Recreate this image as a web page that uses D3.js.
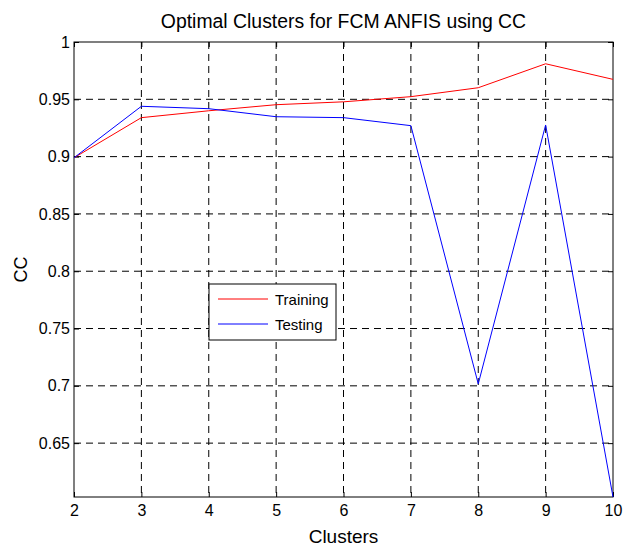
<!DOCTYPE html>
<html lang="en">
<head>
  <meta charset="UTF-8" />
  <title>Optimal Clusters for FCM ANFIS using CC</title>
  <script src="https://d3js.org/d3.v7.min.js"></script>
  <style>
    body { margin: 0; background: #fff; }
    svg { display: block; font-family: 'Liberation Sans', Arial, sans-serif; }
    .grid line { stroke: #000; stroke-dasharray: 7,5; stroke-width: 1; }
  </style>
</head>
<body>
  <svg id="chart" width="624" height="547"></svg>
  <script>
    const clusters = [2, 3, 4, 5, 6, 7, 8, 9, 10];
    const training = [0.899, 0.934, 0.940, 0.9453, 0.9478, 0.9523, 0.9601, 0.981, 0.9674];
    const testing  = [0.899, 0.9439, 0.9418, 0.9348, 0.934, 0.927, 0.7017, 0.9276, 0.603];
    const yTicks = [0.65, 0.7, 0.75, 0.8, 0.85, 0.9, 0.95, 1];

    const svg = d3.select("#chart");
    const plotL = 74, plotR = 613, plotT = 42, plotB = 497;
    const font = "'Liberation Sans', Arial, sans-serif";

    const x = d3.scaleLinear().domain([2, 10]).range([plotL, plotR]);
    const y = d3.scaleLinear().domain([0.603, 1]).range([plotB, plotT]);

    // Grid lines
    const grid = svg.append("g").attr("class", "grid");
    grid.selectAll(".vg")
      .data(clusters.slice(1, -1))
      .enter().append("line")
      .attr("x1", d => x(d)).attr("x2", d => x(d))
      .attr("y1", plotT).attr("y2", plotB);
    grid.selectAll(".hg")
      .data(yTicks.slice(0, -1))
      .enter().append("line")
      .attr("x1", plotL).attr("x2", plotR)
      .attr("y1", d => y(d)).attr("y2", d => y(d));

    // Axes (ticks inward)
    const xAxis = d3.axisBottom(x).tickValues(clusters).tickSize(-5).tickPadding(8).tickFormat(d3.format("d"));
    const xg = svg.append("g").attr("transform", `translate(0,${plotB})`).call(xAxis);
    const yAxis = d3.axisLeft(y).tickValues(yTicks).tickSize(-5).tickPadding(4).tickFormat(d => d);
    const yg = svg.append("g").attr("transform", `translate(${plotL},0)`).call(yAxis);
    [xg, yg].forEach(g => {
      g.attr("font-size", 16).attr("font-family", font);
      g.selectAll("text").attr("fill", "#000");
      g.selectAll("line").attr("stroke", "#000");
      g.select(".domain").remove();
    });
    // top/right ticks
    svg.append("g").attr("transform", `translate(0,${plotT})`)
      .call(d3.axisTop(x).tickValues(clusters).tickSize(-5).tickFormat(""))
      .call(g => g.select(".domain").remove());
    svg.append("g").attr("transform", `translate(${plotR},0)`)
      .call(d3.axisRight(y).tickValues(yTicks).tickSize(-5).tickFormat(""))
      .call(g => g.select(".domain").remove());

    // Box
    svg.append("rect")
      .attr("x", plotL).attr("y", plotT)
      .attr("width", plotR - plotL).attr("height", plotB - plotT)
      .attr("fill", "none").attr("stroke", "#000").attr("stroke-width", 1);

    // Lines
    const line = d3.line().x((d, i) => x(clusters[i])).y(d => y(d));
    svg.append("path").datum(training).attr("d", line)
      .attr("fill", "none").attr("stroke", "#ff0000").attr("stroke-width", 1);
    svg.append("path").datum(testing).attr("d", line)
      .attr("fill", "none").attr("stroke", "#0000ff").attr("stroke-width", 1);

    // Title and labels
    svg.append("text").attr("x", (plotL + plotR) / 2).attr("y", 28)
      .attr("text-anchor", "middle").attr("font-size", 19.4).text("Optimal Clusters for FCM ANFIS using CC");
    svg.append("text").attr("x", (plotL + plotR) / 2).attr("y", 543)
      .attr("text-anchor", "middle").attr("font-size", 19).text("Clusters");
    svg.append("text").attr("transform", `translate(27,${(plotT + plotB) / 2}) rotate(-90)`)
      .attr("text-anchor", "middle").attr("font-size", 18).text("CC");

    // Legend
    const legend = svg.append("g");
    legend.append("rect").attr("x", 209).attr("y", 284).attr("width", 127).attr("height", 56)
      .attr("fill", "#fff").attr("stroke", "#000");
    const items = [["Training", "#ff0000"], ["Testing", "#0000ff"]];
    items.forEach((it, i) => {
      const ly = 299 + i * 25;
      legend.append("line").attr("x1", 218).attr("x2", 268).attr("y1", ly).attr("y2", ly)
        .attr("stroke", it[1]);
      legend.append("text").attr("x", 275).attr("y", ly + 5.5).attr("font-size", 15).text(it[0]);
    });
  </script>
</body>
</html>
